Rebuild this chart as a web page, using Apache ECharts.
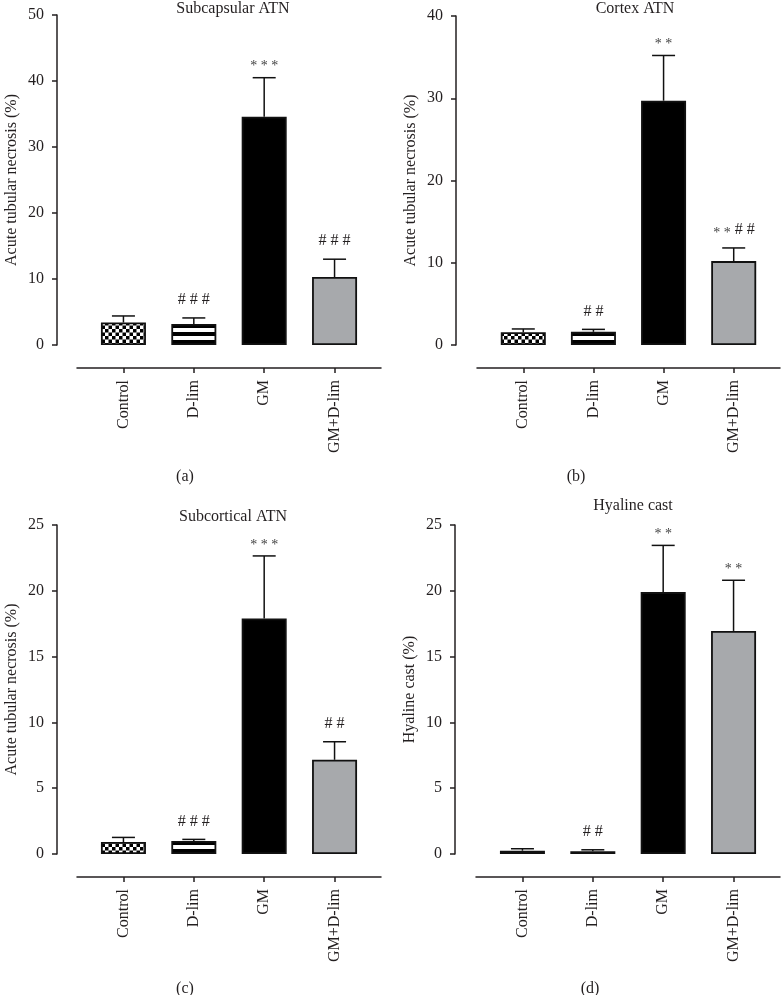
<!DOCTYPE html>
<html>
<head>
<meta charset="utf-8">
<script src="https://cdn.jsdelivr.net/npm/echarts@6/dist/echarts.min.js"></script>
<style>
html,body{margin:0;padding:0;background:#fff;}
#chart{width:781px;height:995px;}
</style>
</head>
<body>
<div id="chart"></div>
<script>
// ---------- data ----------
const categories = ['Control', 'D-lim', 'GM', 'GM+D-lim'];

const subcapsularMean = [3.4, 3.2, 34.6, 10.3];
const subcapsularSEM  = [1.0, 0.9, 5.9, 2.7];
const subcapsularSig  = ['', '###', '***', '###'];

const cortexMean = [1.55, 1.6, 29.7, 10.2];
const cortexSEM  = [0.4, 0.3, 5.5, 1.6];
const cortexSig  = ['', '##', '**', '**##'];

const subcorticalMean = [0.91, 0.99, 17.9, 7.16];
const subcorticalSEM  = [0.35, 0.12, 4.75, 1.37];
const subcorticalSig  = ['', '###', '***', '##'];

const hyalineMean = [0.25, 0.2, 19.9, 16.95];
const hyalineSEM  = [0.15, 0.12, 3.55, 3.85];
const hyalineSig  = ['', '##', '**', '**'];

const yTicksA = {max: 50, interval: 10};
const yTicksB = {max: 40, interval: 10};
const yTicksC = {max: 25, interval: 5};
const yTicksD = {max: 25, interval: 5};

// ---------- styles ----------
const FONT = "'Liberation Serif', 'Times New Roman', serif";
const INK = '#231f20';
const GREY = '#a7a9ac';

function checkerCanvas() {
  const c = document.createElement('canvas');
  c.width = 7; c.height = 7;
  const g = c.getContext('2d');
  g.fillStyle = '#fff'; g.fillRect(0, 0, 7, 7);
  g.fillStyle = '#000';
  g.fillRect(0, 0, 3.5, 3.5);
  g.fillRect(3.5, 3.5, 3.5, 3.5);
  return c;
}
function stripeCanvas() {
  const c = document.createElement('canvas');
  c.width = 8; c.height = 8;
  const g = c.getContext('2d');
  g.fillStyle = '#fff'; g.fillRect(0, 0, 8, 4);
  g.fillStyle = '#000'; g.fillRect(0, 4, 8, 4);
  return c;
}
const checkerImg = checkerCanvas();
const stripeImg = stripeCanvas();

const panels = [
  {title: 'Subcapsular ATN', yName: 'Acute tubular necrosis (%)', ticks: yTicksA,
   mean: subcapsularMean, sem: subcapsularSEM, sig: subcapsularSig,
   grid: {left: 77, top: 15, width: 304, height: 330}, yOffset: 20,
   titleX: 233, titleY: 1, tag: '(a)', tagX: 185, tagY: 469, stripeY: 0},
  {title: 'Cortex ATN', yName: 'Acute tubular necrosis (%)', ticks: yTicksB,
   mean: cortexMean, sem: cortexSEM, sig: cortexSig,
   grid: {left: 477, top: 16, width: 303, height: 329}, yOffset: 21,
   titleX: 635, titleY: 1, tag: '(b)', tagX: 576, tagY: 469, stripeY: 0},
  {title: 'Subcortical ATN', yName: 'Acute tubular necrosis (%)', ticks: yTicksC,
   mean: subcorticalMean, sem: subcorticalSEM, sig: subcorticalSig,
   grid: {left: 77, top: 525, width: 304, height: 329}, yOffset: 20,
   titleX: 233, titleY: 509, tag: '(c)', tagX: 185, tagY: 981, stripeY: 5},
  {title: 'Hyaline cast', yName: 'Hyaline cast (%)', ticks: yTicksD,
   mean: hyalineMean, sem: hyalineSEM, sig: hyalineSig,
   grid: {left: 476, top: 525, width: 304, height: 329}, yOffset: 21,
   titleX: 633, titleY: 498, tag: '(d)', tagX: 590, tagY: 981, stripeY: 5}
];

const option = {
  animation: false,
  backgroundColor: '#fff',
  title: [], grid: [], xAxis: [], yAxis: [], series: []
};

const tickIdx = categories.map((c, i) => i);

panels.forEach((p, k) => {
  option.title.push({
    text: p.title, left: p.titleX, top: p.titleY, textAlign: 'center', padding: 0,
    textStyle: {fontFamily: FONT, fontSize: 16, fontWeight: 'normal', color: INK}
  });
  option.title.push({
    text: p.tag, left: p.tagX, top: p.tagY, textAlign: 'center', padding: 0,
    textStyle: {fontFamily: FONT, fontSize: 16, fontWeight: 'normal', color: INK}
  });
  option.grid.push(Object.assign({containLabel: false}, p.grid));
  option.xAxis.push({
    type: 'value', gridIndex: k, min: -0.66, max: 3.66, offset: 23,
    axisLine: {show: true, onZero: false, lineStyle: {color: INK, width: 1.5}},
    axisTick: {show: true, customValues: tickIdx, length: 5, lineStyle: {color: INK, width: 1.5}},
    axisLabel: {show: true, customValues: tickIdx, rotate: 90, margin: 12,
      fontFamily: FONT, fontSize: 16, color: INK,
      formatter: v => categories[Math.round(v)]},
    splitLine: {show: false}
  });
  option.yAxis.push({
    type: 'value', gridIndex: k, min: 0, max: p.ticks.max, interval: p.ticks.interval,
    offset: p.yOffset,
    name: p.yName, nameLocation: 'middle', nameGap: 37,
    nameTextStyle: {fontFamily: FONT, fontSize: 16, color: INK},
    axisLine: {show: true, onZero: false, lineStyle: {color: INK, width: 1.5}},
    axisTick: {show: true, length: 5, lineStyle: {color: INK, width: 1.5}},
    axisLabel: {fontFamily: FONT, fontSize: 16, color: INK, margin: 13},
    splitLine: {show: false}
  });
  const fills = [
    {image: checkerImg, repeat: 'repeat'},
    {image: stripeImg, repeat: 'repeat', y: p.stripeY},
    '#000000',
    GREY
  ];
  option.series.push({
    type: 'bar', xAxisIndex: k, yAxisIndex: k, barWidth: 45,
    data: p.mean.map((m, i) => ({
      value: [i, m],
      itemStyle: {color: fills[i], borderColor: '#111', borderWidth: 1.8}
    })),
    z: 2
  });
  const sig = p.sig;
  option.series.push({
    type: 'custom', xAxisIndex: k, yAxisIndex: k, z: 3, clip: false,
    data: p.mean.map((m, i) => [i, m, p.sem[i]]),
    renderItem: function (params, api) {
      const i = api.value(0), m = api.value(1), e = api.value(2);
      const b = api.coord([i, m]);
      const t = api.coord([i, m + e]);
      const hw = 11.5;
      const ls = {stroke: '#111', lineWidth: 1.5};
      const children = [
        {type: 'line', shape: {x1: b[0], y1: b[1], x2: t[0], y2: t[1]}, style: ls},
        {type: 'line', shape: {x1: t[0] - hw, y1: t[1], x2: t[0] + hw, y2: t[1]}, style: ls}
      ];
      const s = sig[params.dataIndex] || '';
      const stars = (s.match(/\*/g) || []).join(' ');
      const hashes = (s.match(/#/g) || []).join(' ');
      const starText = (x, y, align) => ({type: 'text', style: {
        text: stars, x: x, y: y, align: align, verticalAlign: 'middle',
        font: '14px ' + FONT, fill: '#444'}});
      const hashText = (x, y, align) => ({type: 'text', style: {
        text: hashes, x: x, y: y, align: align, verticalAlign: 'middle',
        font: '16px ' + FONT, fill: INK}});
      if (stars && hashes) {
        children.push(starText(t[0] - 3, t[1] - 15, 'right'));
        children.push(hashText(t[0] + 1, t[1] - 18, 'left'));
      } else if (stars) {
        children.push(starText(t[0], t[1] - 11, 'center'));
      } else if (hashes) {
        children.push(hashText(t[0], t[1] - 18, 'center'));
      }
      return {type: 'group', children: children};
    }
  });
});

const chart = echarts.init(document.getElementById('chart'), null, {renderer: 'canvas'});
chart.setOption(option);
</script>
</body>
</html>
